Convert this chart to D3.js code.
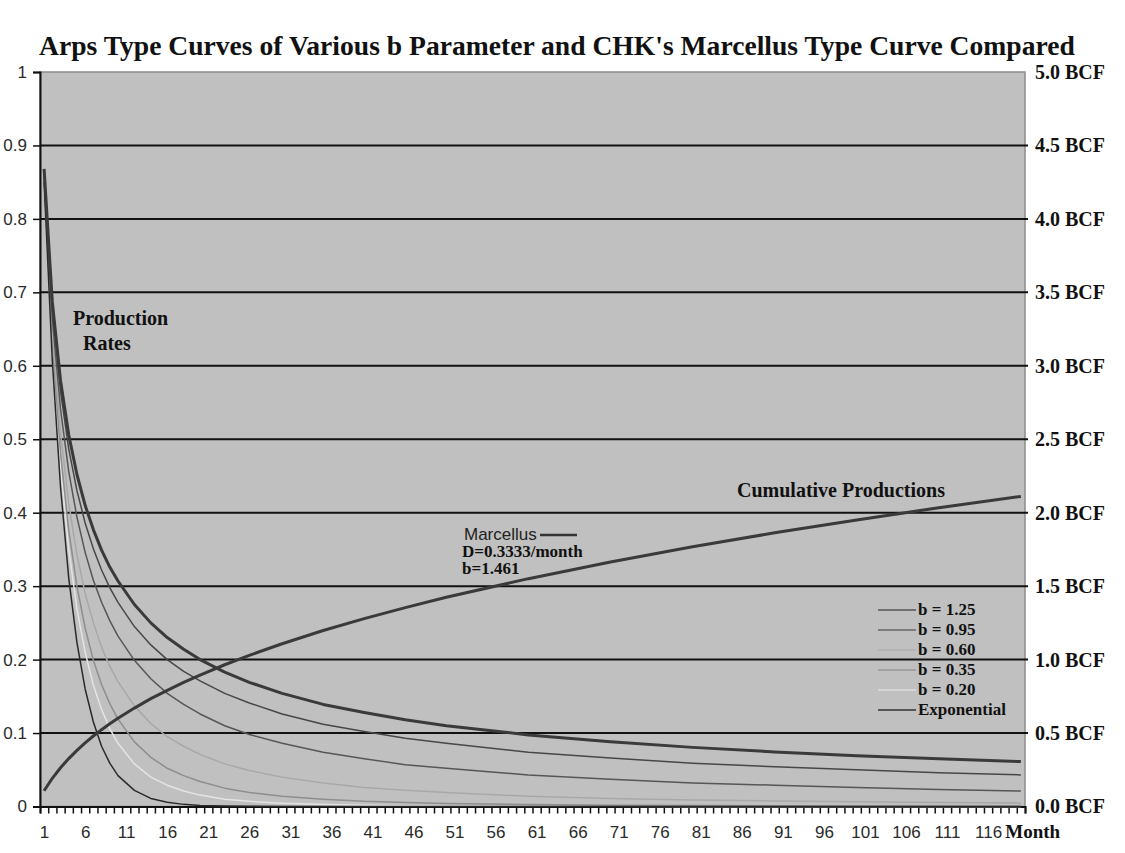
<!DOCTYPE html>
<html>
<head>
<meta charset="utf-8">
<script src="https://cdn.jsdelivr.net/npm/d3@7"></script>
<style>
  html, body { margin: 0; padding: 0; background: #fff; }
  svg { display: block; }
</style>
</head>
<body>
<svg id="chart" width="1125" height="853"></svg>
<script>
// Months (category axis runs 1..120).
const MONTHS = [1, 2, 3, 4, 5, 6, 7, 8, 9, 10, 12, 14, 16, 18, 20, 23, 26, 30, 35, 40, 45, 50, 60, 70, 80, 90, 100, 110, 120];

// Production rate curves (left axis, fraction of initial rate).
const RATE_MARCELLUS = [0.868, 0.687, 0.580, 0.506, 0.452, 0.410, 0.377, 0.349, 0.326, 0.307, 0.275, 0.250, 0.230, 0.214, 0.200, 0.183, 0.169, 0.154, 0.139, 0.128, 0.118, 0.110, 0.0975, 0.088, 0.0805, 0.0743, 0.0692, 0.0649, 0.0612];
const RATE_B125 = [0.866, 0.678, 0.565, 0.487, 0.430, 0.386, 0.351, 0.322, 0.298, 0.278, 0.245, 0.220, 0.200, 0.184, 0.171, 0.154, 0.141, 0.126, 0.112, 0.102, 0.093, 0.086, 0.074, 0.066, 0.059, 0.054, 0.050, 0.046, 0.043];
const RATE_B095 = [0.863, 0.664, 0.541, 0.456, 0.394, 0.346, 0.308, 0.278, 0.253, 0.232, 0.199, 0.174, 0.154, 0.139, 0.126, 0.110, 0.098, 0.086, 0.074, 0.065, 0.057, 0.052, 0.043, 0.037, 0.032, 0.029, 0.026, 0.023, 0.021];
const RATE_B060 = [0.858, 0.646, 0.509, 0.413, 0.343, 0.290, 0.250, 0.217, 0.191, 0.170, 0.137, 0.113, 0.095, 0.082, 0.071, 0.058, 0.049, 0.040, 0.032, 0.026, 0.022, 0.019, 0.014, 0.011, 0.009, 0.0075, 0.0063, 0.0054, 0.0047];
const RATE_B035 = [0.855, 0.631, 0.481, 0.376, 0.300, 0.243, 0.199, 0.166, 0.140, 0.119, 0.088, 0.067, 0.052, 0.042, 0.034, 0.025, 0.019, 0.014, 0.010, 0.007, 0.0055, 0.0042, 0.0027, 0.0018, 0.0013, 0.0009, 0.0007, 0.0006, 0.0004];
const RATE_B020 = [0.853, 0.621, 0.463, 0.350, 0.269, 0.210, 0.165, 0.132, 0.106, 0.086, 0.058, 0.040, 0.029, 0.021, 0.0155, 0.010, 0.007, 0.0044, 0.0026, 0.0016, 0.001, 0.0007, 0.0003, 0.0002, 0.0001, 0.0001, 0, 0, 0];
const RATE_EXP = [0.850, 0.607, 0.435, 0.311, 0.223, 0.160, 0.115, 0.082, 0.059, 0.042, 0.022, 0.011, 0.0057, 0.0029, 0.0015, 0.0006, 0.0002, 0.0001, 0, 0, 0, 0, 0, 0, 0, 0, 0, 0, 0];

// Marcellus cumulative production (right axis, BCF).
const CUM_MARCELLUS = [0.107, 0.192, 0.264, 0.326, 0.382, 0.433, 0.480, 0.523, 0.563, 0.601, 0.670, 0.734, 0.791, 0.845, 0.895, 0.965, 1.029, 1.108, 1.198, 1.279, 1.354, 1.424, 1.551, 1.665, 1.768, 1.863, 1.951, 2.034, 2.111];

const LEFT_TICKS = [0, 0.1, 0.2, 0.3, 0.4, 0.5, 0.6, 0.7, 0.8, 0.9, 1];
const RIGHT_TICKS = [0, 0.5, 1, 1.5, 2, 2.5, 3, 3.5, 4, 4.5, 5];
const MONTH_LABELS = [1, 6, 11, 16, 21, 26, 31, 36, 41, 46, 51, 56, 61, 66, 71, 76, 81, 86, 91, 96, 101, 106, 111, 116];
const MONTH_COUNT = 120;

const LEGEND = ['b = 1.25', 'b = 0.95', 'b = 0.60', 'b = 0.35', 'b = 0.20', 'Exponential'];

const SERIES = [
  { name: 'b = 0.20', values: RATE_B020, color: '#e4e4e4', width: 1.5 },
  { name: 'b = 0.35', values: RATE_B035, color: '#8e8e8e', width: 1.5 },
  { name: 'b = 0.60', values: RATE_B060, color: '#a8a8a8', width: 1.5 },
  { name: 'b = 0.95', values: RATE_B095, color: '#565656', width: 1.5 },
  { name: 'b = 1.25', values: RATE_B125, color: '#474747', width: 1.5 },
  { name: 'Exponential', values: RATE_EXP, color: '#2a2a2a', width: 1.5 },
];
const LEGEND_COLORS = { 'b = 1.25': '#555', 'b = 0.95': '#666', 'b = 0.60': '#b0b0b0', 'b = 0.35': '#999', 'b = 0.20': '#dcdcdc', 'Exponential': '#333' };

const M = { left: 40, right: 1025, top: 72, bottom: 806.5 };
const SERIF = "'Liberation Serif', 'Times New Roman', serif";
const SANS = "'Liberation Sans', Arial, sans-serif";

const svg = d3.select('#chart');

const x = d3.scaleLinear().domain([0.5, MONTH_COUNT + 0.5]).range([M.left, M.right]);
const y = d3.scaleLinear().domain([0, 1]).range([M.bottom, M.top]);
const yRight = d3.scaleLinear().domain([0, 5]).range([M.bottom, M.top]);

// plot area
svg.append('rect')
  .attr('x', M.left)
  .attr('y', M.top)
  .attr('width', M.right - M.left)
  .attr('height', M.bottom - M.top)
  .attr('fill', '#c0c0c0')
  .attr('stroke', '#8c8c8c')
  .attr('stroke-width', 1.5);

// gridlines
svg.append('g')
  .selectAll('line')
  .data(LEFT_TICKS.filter((d) => d > 0 && d < 1))
  .enter()
  .append('line')
  .attr('x1', M.left)
  .attr('x2', M.right + 3)
  .attr('y1', (d) => y(d))
  .attr('y2', (d) => y(d))
  .attr('stroke', '#111')
  .attr('stroke-width', 2);

// left axis
const leftAxis = svg.append('g')
  .attr('transform', `translate(${M.left},0)`)
  .call(d3.axisLeft(y).tickValues(LEFT_TICKS).tickSize(7).tickPadding(6).tickFormat(d3.format('')));
leftAxis.select('.domain').attr('stroke', '#111').attr('stroke-width', 2);
leftAxis.selectAll('.tick line').attr('stroke', '#111').attr('stroke-width', 1.5);
leftAxis.selectAll('text')
  .attr('fill', '#2a2a2a')
  .style('font-family', SANS)
  .style('font-size', '17px');

// right axis
const rightAxis = svg.append('g')
  .attr('transform', `translate(${M.right},0)`)
  .call(d3.axisRight(yRight).tickValues(RIGHT_TICKS).tickSize(0).tickPadding(10).tickFormat((d) => `${d3.format('.1f')(d)} BCF`));
rightAxis.select('.domain').remove();
rightAxis.selectAll('text')
  .attr('fill', '#111')
  .style('font-family', SERIF)
  .style('font-size', '20px')
  .style('font-weight', 'bold');

// bottom axis: category tick marks and labels
const bottomTicks = svg.append('g')
  .attr('transform', `translate(0,${M.bottom})`)
  .call(d3.axisBottom(x).tickValues(d3.range(0.5, MONTH_COUNT + 1, 1)).tickSize(7).tickFormat(''));
bottomTicks.select('.domain').attr('stroke', '#111').attr('stroke-width', 2);
bottomTicks.selectAll('.tick line').attr('stroke', '#111').attr('stroke-width', 1.5);

const bottomLabels = svg.append('g')
  .attr('transform', `translate(0,${M.bottom})`)
  .call(d3.axisBottom(x).tickValues(MONTH_LABELS).tickSize(0).tickPadding(19));
bottomLabels.select('.domain').remove();
bottomLabels.selectAll('text')
  .attr('fill', '#2a2a2a')
  .style('font-family', SANS)
  .style('font-size', '17px');

svg.append('text')
  .attr('x', x(118.1))
  .attr('y', 838)
  .attr('fill', '#111')
  .style('font-family', SERIF)
  .style('font-size', '19px')
  .style('font-weight', 'bold')
  .text('Month');

// curves
const rateLine = (values) => d3.line()
  .x((d, i) => x(MONTHS[i]))
  .y((d) => y(d))(values);

const curveLayer = svg.append('g');
SERIES.forEach((s) => {
  curveLayer.append('path')
    .attr('d', rateLine(s.values))
    .attr('fill', 'none')
    .attr('stroke', s.color)
    .attr('stroke-width', s.width)
    .attr('stroke-linejoin', 'round');
});

curveLayer.append('path')
  .attr('d', rateLine(RATE_MARCELLUS))
  .attr('fill', 'none')
  .attr('stroke', '#3a3a3a')
  .attr('stroke-width', 3)
  .attr('stroke-linejoin', 'round');

curveLayer.append('path')
  .attr('d', d3.line().x((d, i) => x(MONTHS[i])).y((d) => yRight(d))(CUM_MARCELLUS))
  .attr('fill', 'none')
  .attr('stroke', '#3a3a3a')
  .attr('stroke-width', 3)
  .attr('stroke-linejoin', 'round');

// title
svg.append('text')
  .attr('x', 39)
  .attr('y', 55)
  .attr('fill', '#111')
  .style('font-family', SERIF)
  .style('font-size', '27.6px')
  .style('font-weight', 'bold')
  .text("Arps Type Curves of Various b Parameter and CHK's Marcellus Type Curve Compared");

// annotations
const note = (tx, ty, text, size, family, weight) => svg.append('text')
  .attr('x', tx)
  .attr('y', ty)
  .attr('fill', '#111')
  .style('font-family', family)
  .style('font-size', size)
  .style('font-weight', weight)
  .text(text);

note(73, 325, 'Production', '20px', SERIF, 'bold');
note(83, 350, 'Rates', '20px', SERIF, 'bold');
note(737, 497, 'Cumulative Productions', '20px', SERIF, 'bold');
note(464, 540, 'Marcellus', '17px', SANS, 'normal').attr('fill', '#222');
note(462, 557, 'D=0.3333/month', '17px', SERIF, 'bold');
note(462, 574, 'b=1.461', '17px', SERIF, 'bold');
svg.append('line')
  .attr('x1', 540).attr('x2', 577)
  .attr('y1', 535).attr('y2', 535)
  .attr('stroke', '#333')
  .attr('stroke-width', 2.5);

// legend
const legend = svg.append('g').attr('transform', 'translate(878,615)');
const rows = legend.selectAll('g')
  .data(LEGEND)
  .enter()
  .append('g')
  .attr('transform', (d, i) => `translate(0,${i * 20})`);
rows.append('line')
  .attr('x1', 0).attr('x2', 38)
  .attr('y1', -5).attr('y2', -5)
  .attr('stroke', (d) => LEGEND_COLORS[d])
  .attr('stroke-width', 1.5);
rows.append('text')
  .attr('x', 40)
  .attr('y', 0)
  .attr('fill', '#111')
  .style('font-family', SERIF)
  .style('font-size', '17px')
  .style('font-weight', 'bold')
  .text((d) => d);
</script>
</body>
</html>
